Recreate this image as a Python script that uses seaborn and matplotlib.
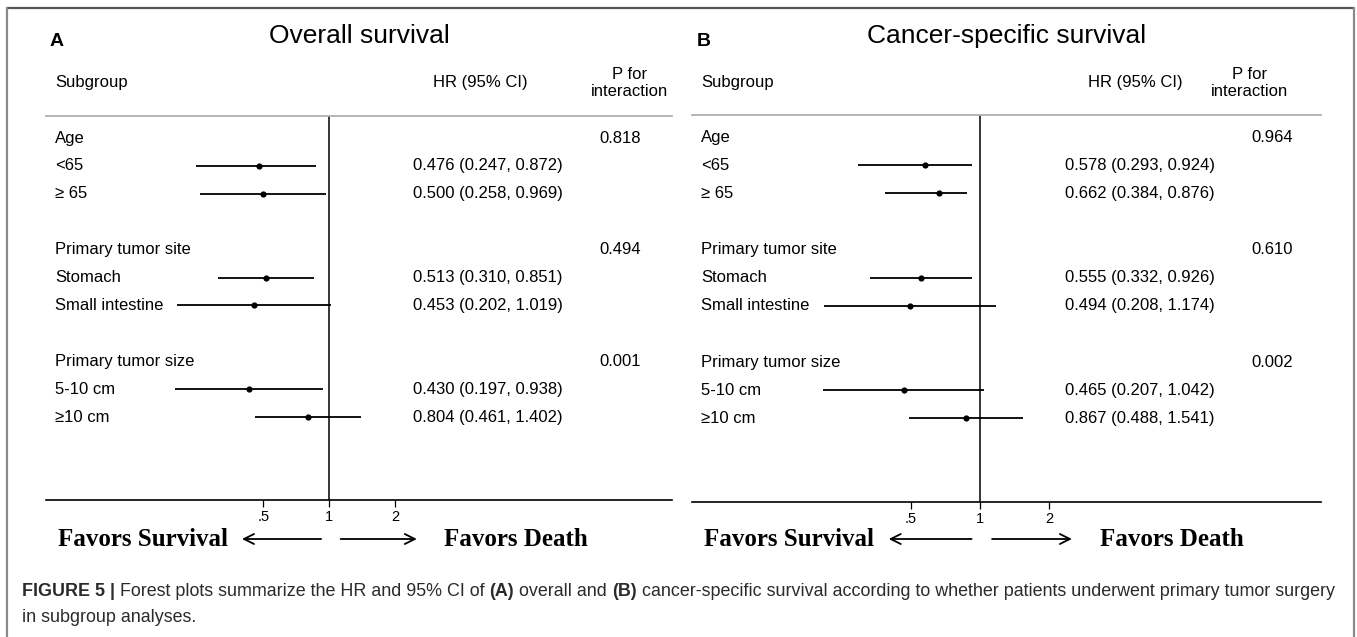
import numpy as np
import pandas as pd
import matplotlib
matplotlib.use("Agg")
import matplotlib.pyplot as plt
import matplotlib.transforms as mtransforms
from matplotlib.lines import Line2D
from matplotlib.ticker import NullLocator, FixedLocator, FixedFormatter
import seaborn as sns

sns.set_theme(style="white")
plt.rcParams['font.family'] = ['Liberation Sans', 'DejaVu Sans']
plt.rcParams['text.color'] = 'black'

# ---- data -------------------------------------------------------------
group_names = ["Age", "Primary tumor site", "Primary tumor size"]
subgroup_names = ["<65", "\u2265 65", "Stomach", "Small intestine", "5-10 cm", "\u226510 cm"]
subgroup_group = [0, 0, 1, 1, 2, 2]

os_hr = [0.476, 0.500, 0.513, 0.453, 0.430, 0.804]
os_lo = [0.247, 0.258, 0.310, 0.202, 0.197, 0.461]
os_hi = [0.872, 0.969, 0.851, 1.019, 0.938, 1.402]
os_p = ["0.818", "0.494", "0.001"]

css_hr = [0.578, 0.662, 0.555, 0.494, 0.465, 0.867]
css_lo = [0.293, 0.384, 0.332, 0.208, 0.207, 0.488]
css_hi = [0.924, 0.876, 0.926, 1.174, 1.042, 1.541]
css_p = ["0.964", "0.610", "0.002"]

tick_values = [0.5, 1, 2]
tick_labels = [".5", "1", "2"]

# ---- figure -----------------------------------------------------------
W, H = 1357, 637
fig = plt.figure(figsize=(W / 100, H / 100), dpi=100)
fig.patch.set_facecolor("white")


def fx(px):
    return px / W


def fy(py):
    return 1 - py / H


LABEL_FS = 12
SERIF = ['Liberation Serif', 'DejaVu Serif']


def draw_panel(left, right, top, bottom, xlim, letter, letter_x, title,
               hr, lo, hi, pvals, hr_head_x, p_head_x, p_x, hr_x):
    ax = fig.add_axes([fx(left), fy(bottom), fx(right - left), (bottom - top) / H])
    rows = [4 * g + 1 + (i % 2) for i, g in enumerate(subgroup_group)]
    df = pd.DataFrame({"row": rows, "hr": hr, "lo": lo, "hi": hi,
                       "label": subgroup_names})

    ax.hlines(df["row"], df["lo"], df["hi"], color="black", lw=1.3, zorder=2)
    sns.scatterplot(data=df, x="hr", y="row", ax=ax, color="black", s=20,
                    linewidth=0, zorder=3, legend=False)
    ax.axvline(1, color="black", lw=1.1, zorder=1)

    ax.set_xscale("log")
    ax.set_xlim(xlim)
    ax.set_ylim(12.97, -0.79)
    ax.set_xlabel("")
    ax.set_ylabel("")
    ax.set_yticks([])
    ax.xaxis.set_major_locator(FixedLocator(tick_values))
    ax.xaxis.set_major_formatter(FixedFormatter(tick_labels))
    ax.xaxis.set_minor_locator(NullLocator())
    ax.tick_params(axis="x", direction="out", length=5, width=0.9, pad=2,
                   labelsize=10.5, colors="black", bottom=True)
    for side in ["left", "right"]:
        ax.spines[side].set_visible(False)
    ax.spines["bottom"].set_color("black")
    ax.spines["bottom"].set_linewidth(1.2)
    ax.spines["top"].set_color("#b0b0b0")
    ax.spines["top"].set_linewidth(1.3)
    ax.patch.set_alpha(0)

    tr = mtransforms.blended_transform_factory(ax.transAxes, ax.transData)
    lab_x = 0.0144
    for g, name in enumerate(group_names):
        ax.text(lab_x, 4 * g, name, transform=tr, fontsize=LABEL_FS,
                va="center", ha="left")
        ax.text(p_x, 4 * g, pvals[g], transform=tr, fontsize=LABEL_FS,
                va="center", ha="center")
    for _, r in df.iterrows():
        ax.text(lab_x, r["row"], r["label"], transform=tr, fontsize=LABEL_FS,
                va="center", ha="left")
        ax.text(hr_x, r["row"], f"{r['hr']:.3f} ({r['lo']:.3f}, {r['hi']:.3f})",
                transform=tr, fontsize=LABEL_FS, va="center", ha="left")

    # header row
    fig.text(fx(left + 9), fy(83), "Subgroup", fontsize=LABEL_FS, va="center", ha="left")
    fig.text(fx(hr_head_x), fy(83), "HR (95% CI)", fontsize=LABEL_FS, va="center", ha="center")
    fig.text(fx(p_head_x), fy(83), "P for\ninteraction", fontsize=LABEL_FS,
             va="center", ha="center", linespacing=1.15)
    fig.text(fx(letter_x), fy(42), letter, fontsize=14, fontweight="bold",
             va="center", ha="left")
    fig.text(fx((left + right) / 2), fy(36), title, fontsize=19,
             va="center", ha="center")

    # direction arrows below the axis
    btr = mtransforms.blended_transform_factory(ax.transData, fig.transFigure)
    ya = fy(539)
    ax.annotate("", xy=(0.40, ya), xytext=(0.92, ya), xycoords=btr, textcoords=btr,
                arrowprops=dict(arrowstyle="->", lw=1.3, color="black",
                                mutation_scale=18, shrinkA=0, shrinkB=0),
                annotation_clip=False)
    ax.annotate("", xy=(2.52, ya), xytext=(1.13, ya), xycoords=btr, textcoords=btr,
                arrowprops=dict(arrowstyle="->", lw=1.3, color="black",
                                mutation_scale=18, shrinkA=0, shrinkB=0),
                annotation_clip=False)
    ax.text(0.345, ya, "Favors Survival", transform=btr, family=SERIF,
            fontsize=18, fontweight="bold", ha="right", va="center")
    ax.text(3.35, ya, "Favors Death", transform=btr, family=SERIF,
            fontsize=18, fontweight="bold", ha="left", va="center")
    return ax


draw_panel(46, 672, 116, 500, (0.0508, 37.0), "A", 50, "Overall survival",
           os_hr, os_lo, os_hi, os_p,
           hr_head_x=480, p_head_x=630, p_x=0.917, hr_x=0.586)
draw_panel(692, 1321, 115, 502, (0.0554, 30.8), "B", 697, "Cancer-specific survival",
           css_hr, css_lo, css_hi, css_p,
           hr_head_x=1135, p_head_x=1250, p_x=0.922, hr_x=0.593)

# ---- outer frame ------------------------------------------------------
fig.add_artist(Line2D([fx(7), fx(1354)], [fy(8), fy(8)], color="#555555", lw=1.6))
fig.add_artist(Line2D([fx(7), fx(7)], [fy(8), fy(637)], color="#8a8a8a", lw=1.6))
fig.add_artist(Line2D([fx(1354), fx(1354)], [fy(8), fy(637)], color="#8a8a8a", lw=1.6))

# ---- caption ----------------------------------------------------------
cap_color = "#2b2b2b"
cap_fs = 12.9
line1 = [("FIGURE 5", "bold"), (" | ", "bold"),
         ("Forest plots summarize the HR and 95% CI of ", "normal"),
         ("(A)", "bold"), (" overall and ", "normal"), ("(B)", "bold"),
         (" cancer-specific survival according to whether patients underwent primary tumor surgery", "normal")]
renderer = fig.canvas.get_renderer()
x = 22
for s, w in line1:
    t = fig.text(fx(x), fy(592), s, fontsize=cap_fs, fontweight=w, color=cap_color,
                 va="center", ha="left")
    bb = t.get_window_extent(renderer)
    x += bb.width
fig.text(fx(22), fy(618), "in subgroup analyses.", fontsize=cap_fs, color=cap_color,
         va="center", ha="left")

fig.savefig("out.png", dpi=100, facecolor="white")
